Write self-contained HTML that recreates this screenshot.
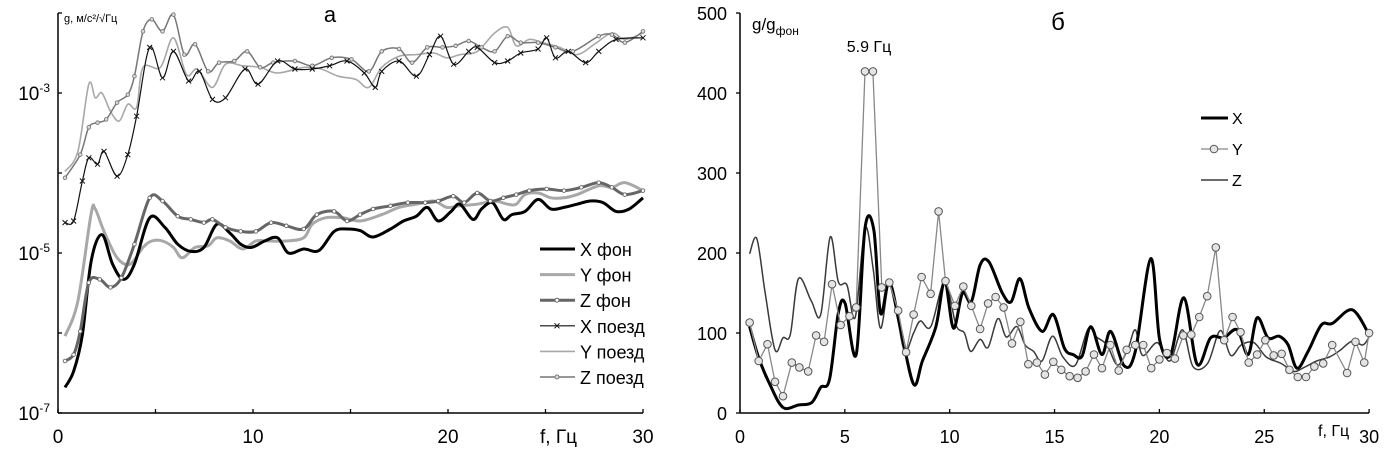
<!DOCTYPE html>
<html><head><meta charset="utf-8">
<style>
html,body{margin:0;padding:0;background:#fff;}
svg{display:block;font-family:"Liberation Sans",sans-serif;}
.n{font-family:"Liberation Sans Narrow","Liberation Sans",sans-serif;}
</style></head>
<body>
<svg id="c" width="1387" height="460" viewBox="0 0 1387 460"></svg>
<script>
// ===== Chart A (log scale, g in m/s^2/sqrtHz, values as log10) =====
const xFonF=[0.36,0.8,1.25,1.7,2.25,2.8,3.36,3.92,4.7,5.48,6.14,6.81,7.48,8.15,8.81,9.37,9.93,10.6,11.26,11.82,12.6,13.38,14.16,14.82,15.49,16.16,17.05,17.72,18.38,18.94,19.5,20.16,20.61,21.28,21.72,22.28,22.84,23.28,23.95,24.62,25.28,25.95,26.62,27.29,27.95,28.62,29.29,30];
const xFonLog=[-6.68,-6.48,-6.02,-5.1,-4.77,-5.14,-5.33,-5.14,-4.56,-4.68,-4.89,-4.98,-4.93,-4.64,-4.75,-4.89,-4.93,-4.85,-4.81,-5.0,-4.95,-4.97,-4.73,-4.7,-4.72,-4.8,-4.7,-4.6,-4.54,-4.43,-4.6,-4.48,-4.39,-4.58,-4.45,-4.37,-4.58,-4.52,-4.48,-4.33,-4.45,-4.43,-4.39,-4.35,-4.37,-4.48,-4.45,-4.31];
const yFonF=[0.36,1.02,1.69,1.91,2.36,3.03,3.69,4.36,4.81,5.36,5.92,6.37,7.03,7.7,8.15,8.81,9.48,10.15,10.82,11.71,12.6,13.04,13.71,14.6,15.49,16.6,17.49,18.38,19.27,19.94,20.61,21.5,22.39,23.06,23.5,23.95,24.62,25.28,25.95,26.62,27.73,28.4,29.07,30];
const yFonLog=[-6.04,-5.6,-4.52,-4.45,-4.73,-5.06,-5.14,-4.93,-4.85,-4.85,-4.93,-5.06,-4.93,-4.91,-4.81,-4.85,-4.95,-4.85,-4.85,-4.85,-4.81,-4.64,-4.56,-4.56,-4.6,-4.52,-4.43,-4.39,-4.35,-4.43,-4.41,-4.39,-4.35,-4.39,-4.39,-4.27,-4.25,-4.31,-4.31,-4.27,-4.16,-4.18,-4.12,-4.22];
const zFonF=[0.36,0.8,1.14,1.58,2.14,2.69,3.25,3.92,4.7,5.36,6.14,6.81,7.48,7.92,8.59,9.37,10.15,10.93,11.71,12.6,13.27,14.16,14.82,15.49,16.16,17.05,17.94,18.83,19.5,20.27,20.83,21.5,22.17,22.84,23.5,24.17,25.06,25.95,26.84,27.73,28.4,29.07,30];
const zFonLog=[-6.35,-6.27,-5.98,-5.37,-5.33,-5.43,-5.31,-4.89,-4.31,-4.35,-4.54,-4.58,-4.62,-4.58,-4.68,-4.73,-4.73,-4.62,-4.66,-4.7,-4.52,-4.48,-4.6,-4.52,-4.45,-4.41,-4.37,-4.37,-4.35,-4.29,-4.37,-4.25,-4.35,-4.31,-4.27,-4.22,-4.2,-4.22,-4.18,-4.12,-4.18,-4.27,-4.22];
const xTrF=[0.36,0.8,1.25,1.58,2.03,2.36,3.03,3.58,4.03,4.7,5.36,5.92,6.7,7.25,7.92,8.59,9.59,10.26,11.26,12.15,13.04,13.93,14.82,15.71,16.27,16.6,17.49,18.38,19.05,19.62,20.29,21.06,21.5,22.39,23.06,23.73,24.62,25.06,25.51,26.17,27.06,27.73,28.62,30];
const xTrLog=[-4.62,-4.6,-4.1,-3.81,-3.89,-3.73,-4.04,-3.77,-3.29,-2.43,-2.81,-2.48,-2.85,-2.73,-3.08,-3.06,-2.7,-2.89,-2.6,-2.7,-2.7,-2.66,-2.6,-2.75,-2.93,-2.73,-2.6,-2.79,-2.52,-2.29,-2.64,-2.48,-2.43,-2.62,-2.6,-2.5,-2.45,-2.31,-2.56,-2.48,-2.62,-2.48,-2.33,-2.31];
const yTrF=[0.36,1.02,1.58,1.91,2.25,2.69,3.14,3.58,4.03,4.36,5.25,5.92,6.59,7.14,7.92,8.59,9.48,10.37,11.26,12.6,13.49,14.38,15.27,15.94,16.6,17.49,18.38,19.27,19.94,20.61,21.5,22.39,23.06,23.5,24.17,24.84,25.73,26.62,27.51,28.4,29.07,30];
const yTrLog=[-3.98,-3.73,-2.89,-3.06,-3.0,-3.23,-3.35,-3.14,-3.18,-2.68,-2.68,-2.31,-2.77,-2.7,-2.93,-2.64,-2.66,-2.68,-2.75,-2.68,-2.7,-2.79,-2.83,-2.93,-2.68,-2.54,-2.52,-2.5,-2.56,-2.52,-2.48,-2.25,-2.18,-2.41,-2.33,-2.37,-2.43,-2.52,-2.39,-2.25,-2.33,-2.25];
const zTrF=[0.36,1.14,1.58,2.03,2.47,3.03,3.58,3.92,4.36,4.81,5.36,5.92,6.48,7.03,7.7,8.26,9.04,9.7,10.37,11.04,12.15,13.04,14.04,15.05,15.94,16.6,17.49,18.16,18.94,19.72,20.39,21.06,21.72,22.39,23.06,23.73,24.62,25.51,26.4,27.73,28.4,29.07,30];
const zTrLog=[-4.06,-3.77,-3.43,-3.37,-3.33,-3.12,-3.02,-2.79,-2.23,-2.08,-2.23,-2.02,-2.52,-2.39,-2.73,-2.62,-2.6,-2.48,-2.68,-2.62,-2.6,-2.66,-2.56,-2.58,-2.73,-2.48,-2.45,-2.62,-2.43,-2.43,-2.41,-2.35,-2.43,-2.48,-2.29,-2.37,-2.37,-2.43,-2.48,-2.29,-2.27,-2.37,-2.23];
const aXTicks=[0,10,20,30];
const aXMinor=[5,15,25];
const aYExp=[-3,-5,-7];
const aYMinor=[-2,-4,-6];

// ===== Chart B (ratio g/g_fon) =====
const bYF=[0.46,0.89,1.31,1.67,2.05,2.47,2.83,3.25,3.63,4.01,4.39,4.8,5.22,5.54,5.96,6.34,6.76,7.12,7.54,7.92,8.28,8.66,9.09,9.47,9.8,10.25,10.65,11.03,11.45,11.83,12.19,12.57,12.97,13.37,13.75,14.16,14.54,14.94,15.32,15.72,16.1,16.48,16.88,17.26,17.66,18.06,18.44,18.85,19.23,19.61,20.0,20.36,20.74,21.14,21.52,21.9,22.28,22.69,23.09,23.49,23.87,24.26,24.66,25.05,25.45,25.83,26.2,26.6,26.99,27.39,27.81,28.24,28.95,29.35,29.77,30];
const bYV=[113,65,86,39,21,63,57,52,97,89,161,110,121,132,427,427,157,163,128,76,123,170,149,252,165,134,158,134,105,137,145,132,87,114,61,63,48,64,54,46,44,52,73,56,85,53,79,85,85,56,67,75,68,97,98,120,146,207,91,120,101,63,73,91,72,74,54,45,45,58,62,85,50,89,63,100];
const bXF=[0.46,0.89,1.42,2.05,2.79,3.42,3.85,4.27,4.69,5.01,5.54,5.96,6.38,6.7,7.12,7.65,8.28,8.7,9.34,9.76,10.18,10.61,11.03,11.45,11.87,12.51,12.93,13.35,13.78,14.41,14.94,15.47,15.89,16.31,16.73,17.26,17.68,18.32,18.85,19.59,20.01,20.54,21.17,21.8,22.44,23.07,23.71,24.23,24.66,25.18,25.71,26.14,26.56,27.09,27.72,28.25,29.2,30];
const bXV=[108,69,36,7,10,13,32,42,125,137,73,231,229,125,164,106,36,65,108,164,106,150,139,185,189,150,139,168,131,102,123,81,73,71,108,73,102,59,77,193,92,73,144,61,94,94,104,73,119,94,96,85,56,77,110,112,129,98];
const bZF=[0.46,0.8,1.2,1.67,2.05,2.4,2.79,3.4,3.85,4.3,4.69,5.1,5.5,5.96,6.35,6.7,7.12,7.5,7.86,8.28,8.6,9.1,9.76,10.3,10.7,11.0,11.45,11.83,12.3,12.7,13.2,13.6,14.0,14.4,14.9,15.4,16.0,16.6,17.0,17.5,18.0,18.5,18.85,19.2,19.9,20.5,21.1,21.6,22.3,22.9,23.4,23.9,24.5,25.1,25.8,26.4,26.9,27.5,28.1,28.6,29.2,29.7,30];
const bZV=[199,218,150,79,94,98,168,140,123,220,164,160,120,231,180,106,164,120,77,100,115,108,164,110,100,77,92,82,118,95,108,85,77,65,96,70,60,105,95,85,60,80,104,72,88,65,104,58,62,103,72,85,88,70,62,52,57,65,70,78,90,85,95];
const bXTicks=[0,5,10,15,20,25,30];
const bYTicks=[0,100,200,300,400,500];

const NS="http://www.w3.org/2000/svg";
const svg=document.getElementById('c');
function mk(tag,attrs,parent){const e=document.createElementNS(NS,tag);for(const k in attrs)e.setAttribute(k,attrs[k]);(parent||svg).appendChild(e);return e;}
function smooth(pts){let d="M"+pts[0][0].toFixed(1)+","+pts[0][1].toFixed(1);for(let i=0;i<pts.length-1;i++){const p0=pts[Math.max(0,i-1)],p1=pts[i],p2=pts[i+1],p3=pts[Math.min(pts.length-1,i+2)];const t=6;d+=" C"+(p1[0]+(p2[0]-p0[0])/t).toFixed(1)+","+(p1[1]+(p2[1]-p0[1])/t).toFixed(1)+" "+(p2[0]-(p3[0]-p1[0])/t).toFixed(1)+","+(p2[1]-(p3[1]-p1[1])/t).toFixed(1)+" "+p2[0].toFixed(1)+","+p2[1].toFixed(1);}return d;}

// axis functions
const aX=f=>58+f*19.5;
const aY=l=>413-(l+7)*80;
const bX=f=>740+f*20.97;
const bY=v=>413-v*0.8;

// ---- Chart A ----
const gA=mk('g',{});


function seriesA(F,L,color,w,name,marker){
  const g=mk('g',{},gA);
  
  
  const pts=F.map((f,i)=>[aX(f),aY(L[i])]);
  mk('path',{d:smooth(pts),fill:'none',stroke:color,'stroke-width':w,'stroke-linejoin':'round'},g);
  if(marker==='x'){pts.forEach(p=>{mk('path',{d:`M${p[0]-2.5},${p[1]-2.5}L${p[0]+2.5},${p[1]+2.5}M${p[0]-2.5},${p[1]+2.5}L${p[0]+2.5},${p[1]-2.5}`,stroke:color,'stroke-width':1},g);});}
  if(marker==='o'){pts.forEach(p=>{mk('circle',{cx:p[0],cy:p[1],r:1.8,fill:'#fff',stroke:color,'stroke-width':0.9},g);});}
  if(marker==='og'){pts.forEach(p=>{mk('circle',{cx:p[0],cy:p[1],r:1.8,fill:'#ddd',stroke:color,'stroke-width':0.9},g);});}
}
seriesA(yFonF,yFonLog,'#a8a8a8',3,'y-fon-line');
seriesA(xFonF,xFonLog,'#000',3,'x-fon-line');
seriesA(zFonF,zFonLog,'#666',3,'z-fon-line','o');
seriesA(yTrF,yTrLog,'#a8a8a8',1.6,'y-train-line');
seriesA(zTrF,zTrLog,'#777',1.5,'z-train-line','og');
seriesA(xTrF,xTrLog,'#111',1.2,'x-train-line','x');

// axes A
const axA=mk('g',{},gA);


mk('line',{x1:aX(0),y1:aY(-2),x2:aX(0),y2:aY(-7),stroke:'#000','stroke-width':1.5},axA);
mk('line',{x1:aX(0),y1:aY(-7),x2:aX(30),y2:aY(-7),stroke:'#000','stroke-width':1.5},axA);
aXTicks.concat(aXMinor).forEach(t=>{mk('line',{x1:aX(t),y1:aY(-7),x2:aX(t),y2:aY(-7)-4,stroke:'#000','stroke-width':1.3},axA);});
aYExp.concat(aYMinor).forEach(t=>{mk('line',{x1:aX(0),y1:aY(t),x2:aX(0)+4,y2:aY(t),stroke:'#000','stroke-width':1.3},axA);});
aXTicks.forEach(t=>{const e=mk('text',{x:aX(t),y:443,'font-size':19,'text-anchor':'middle'},axA);e.textContent=t;
  
  });
aYExp.forEach(t=>{const e=mk('text',{x:50,y:aY(t)+7,'font-size':19,'text-anchor':'end'},axA);
  
  
  e.appendChild(document.createTextNode('10'));const s=mk('tspan',{'font-size':12,dy:-8},e);s.textContent=String(t);});
</script>
<script>
(function(){
const svg=document.getElementById('c');const NS="http://www.w3.org/2000/svg";
function mk(tag,attrs,parent){const e=document.createElementNS(NS,tag);for(const k in attrs)e.setAttribute(k,attrs[k]);(parent||svg).appendChild(e);return e;}
function txt(x,y,s,size,name,anchor,cls){const e=mk('text',{x:x,y:y,'font-size':size,'text-anchor':anchor||'start'});if(cls)e.setAttribute('class',cls);e.textContent=s;
  
  
  return e;}
txt(330,22,'а',22,'chart-a-title','middle');
txt(64,22,'g, м/с²/√Гц',11,'chart-a-y-axis-title');
txt(540,443,'f,  Гц',19,'chart-a-x-axis-title');
// legend A
const items=[['X фон','#000',3,''],['Y фон','#a8a8a8',3,''],['Z фон','#666',3,'o'],['X поезд','#111',1.2,'x'],['Y поезд','#a8a8a8',1.6,''],['Z поезд','#777',1.5,'og']];
items.forEach((it,i)=>{const y=249+i*25.6;const g=mk('g',{});
  
  
  mk('line',{x1:540,y1:y,x2:575,y2:y,stroke:it[1],'stroke-width':it[2]},g);
  if(it[3]==='o')mk('circle',{cx:557,cy:y,r:2,fill:'#fff',stroke:it[1]},g);
  if(it[3]==='og')mk('circle',{cx:557,cy:y,r:2,fill:'#ddd',stroke:it[1]},g);
  if(it[3]==='x')mk('path',{d:`M554.5,${y-2.5}L559.5,${y+2.5}M554.5,${y+2.5}L559.5,${y-2.5}`,stroke:it[1]},g);
  const t=mk('text',{x:580,y:y+7,'font-size':18},g);t.textContent=it[0];});

// ---- Chart B ----
const bX=f=>740+f*20.97, bY=v=>413-v*0.8;
function smooth(pts){let d="M"+pts[0][0].toFixed(1)+","+pts[0][1].toFixed(1);for(let i=0;i<pts.length-1;i++){const p0=pts[Math.max(0,i-1)],p1=pts[i],p2=pts[i+1],p3=pts[Math.min(pts.length-1,i+2)];const t=6;d+=" C"+(p1[0]+(p2[0]-p0[0])/t).toFixed(1)+","+(p1[1]+(p2[1]-p0[1])/t).toFixed(1)+" "+(p2[0]-(p3[0]-p1[0])/t).toFixed(1)+","+(p2[1]-(p3[1]-p1[1])/t).toFixed(1)+" "+p2[0].toFixed(1)+","+p2[1].toFixed(1);}return d;}
const gB=mk('g',{});


function seriesB(F,V,color,w,name,smoothIt,marker){
  const g=mk('g',{},gB);
  
  
  const pts=F.map((f,i)=>[bX(f),bY(V[i])]);
  const d=smoothIt?smooth(pts):"M"+pts.map(p=>p[0].toFixed(1)+","+p[1].toFixed(1)).join(" L");
  mk('path',{d:d,fill:'none',stroke:color,'stroke-width':w,'stroke-linejoin':'round'},g);
  if(marker)pts.forEach(p=>{mk('circle',{cx:p[0],cy:p[1],r:3.8,fill:'#e4e4e4',stroke:'#555','stroke-width':1},g);});
}
seriesB(bZF,bZV,'#3a3a3a',1.5,'z-ratio-line',true,false);
seriesB(bXF,bXV,'#000',3,'x-ratio-line',true,false);
seriesB(bYF,bYV,'#888',1.3,'y-ratio-line',false,true);
const axB=mk('g',{},gB);


mk('line',{x1:bX(0),y1:bY(500),x2:bX(0),y2:bY(0),stroke:'#000','stroke-width':1.5},axB);
mk('line',{x1:bX(0),y1:bY(0),x2:bX(30),y2:bY(0),stroke:'#000','stroke-width':1.5},axB);
bXTicks.forEach(t=>{mk('line',{x1:bX(t),y1:bY(0),x2:bX(t),y2:bY(0)-4,stroke:'#000','stroke-width':1.3},axB);
  const e=txt(bX(t),443,String(t),18,'x-tick-label','middle','n');});
bYTicks.forEach(t=>{mk('line',{x1:bX(0)-4,y1:bY(t),x2:bX(0),y2:bY(t),stroke:'#000','stroke-width':1.3},axB);
  txt(727,bY(t)+7,String(t),18,'y-tick-label','end','n');});
txt(1058,30,'б',24,'chart-b-title','middle');
const yl=txt(752,30,'g/g',17,'chart-b-y-axis-title','start','n');
const sub=mk('tspan',{'font-size':12,dy:5},yl);sub.textContent='фон';
txt(869,52,'5.9 Гц',16,'peak-annotation','middle','n');
txt(1318,436,'f,  Гц',16,'chart-b-x-axis-title','start','n');
const lb=[['X','#000',3,false],['Y','#888',1.3,true],['Z','#3a3a3a',1.5,false]];
lb.forEach((it,i)=>{const y=118+i*31;const g=mk('g',{});
  
  
  mk('line',{x1:1201,y1:y,x2:1228,y2:y,stroke:it[1],'stroke-width':it[2]},g);
  if(it[3])mk('circle',{cx:1214,cy:y,r:3.8,fill:'#e4e4e4',stroke:'#555'},g);
  const t=mk('text',{x:1232,y:y+6,'font-size':16,'class':'n'},g);t.textContent=it[0];});
})();
</script>
</body></html>
